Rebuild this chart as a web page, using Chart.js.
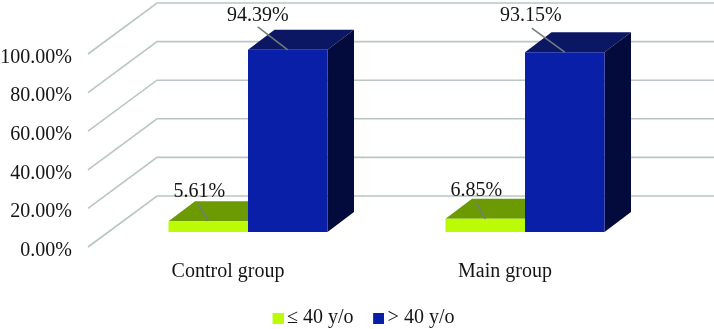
<!DOCTYPE html>
<html>
<head>
<meta charset="utf-8">
<style>
  html, body { margin: 0; padding: 0; background: #fff; }
  #wrap { width: 714px; height: 329px; }
</style>
<script src="https://cdn.jsdelivr.net/npm/chart.js@4/dist/chart.umd.min.js"></script>
</head>
<body>
<div id="wrap"><canvas id="c" width="714" height="329"></canvas></div>
<script>
const categories = ["Control group", "Main group"];
const seriesNames = ["≤ 40 y/o", "> 40 y/o"];
const youngShare = [5.61, 6.85];
const olderShare = [94.39, 93.15];
const tickValues = [0, 20, 40, 60, 80, 100];

const FONT = '"Liberation Serif", "Times New Roman", serif';
const TEXT = "#141414";
const GRID = "#b9c6c3";

// bar depth, and how far the side wall and floor run away from the bars
const DEPTH = { x: 26.5, y: -20 };
const WALL = { backX: 157, backY: -36, frontX: 88, frontY: 15 };
const faces = [
  { front: "#bcfb06", top: "#6b9a02", side: "#6b9a02" },
  { front: "#0a1fa8", top: "#0b1762", side: "#030a3c" },
];
// label centre relative to bar top centre: [dataset][category]
const labelAt = [
  [[-9, -29], [-9, -28]],
  [[-30, -34], [-34, -36]],
];
const leaderFrom = [
  [[-10, -17], [-9, -16]],
  [[-30, -23], [-33, -24]],
];

// legend swatch: blank strip on the left pulls the square closer to its text
function swatch(color) {
  const c = document.createElement("canvas");
  c.width = 13;
  c.height = 11;
  const g = c.getContext("2d");
  g.fillStyle = color;
  g.fillRect(2, 0, 11, 11);
  return c;
}

function poly(ctx, pts, fill) {
  ctx.beginPath();
  pts.forEach((p, i) => (i ? ctx.lineTo(p[0], p[1]) : ctx.moveTo(p[0], p[1])));
  ctx.closePath();
  ctx.fillStyle = fill;
  ctx.fill();
}

const walls3d = {
  id: "walls3d",
  afterLayout(chart) {
    // native legend box sits under the plot, nudged to where the reference has it
    chart.legend.left += 34;
    chart.legend.right += 34;
    chart.legend.top = 284;
  },
  beforeDatasetsDraw(chart) {
    const { ctx, scales } = chart;
    ctx.save();
    ctx.strokeStyle = GRID;
    ctx.lineWidth = 1.6;
    tickValues.forEach((v) => {
      const y = scales.y.getPixelForValue(v);
      ctx.beginPath();
      ctx.moveTo(WALL.frontX, y + WALL.frontY);
      ctx.lineTo(WALL.backX, y + WALL.backY);
      ctx.lineTo(chart.width, y + WALL.backY);
      ctx.stroke();
    });
    chart.data.datasets.forEach((ds, i) => {
      const f = faces[i];
      chart.getDatasetMeta(i).data.forEach((bar) => {
        const l = bar.x - bar.width / 2;
        const r = bar.x + bar.width / 2;
        poly(ctx, [[l, bar.y], [r, bar.y], [r + DEPTH.x, bar.y + DEPTH.y], [l + DEPTH.x, bar.y + DEPTH.y]], f.top);
        poly(ctx, [[r, bar.y], [r + DEPTH.x, bar.y + DEPTH.y], [r + DEPTH.x, bar.base + DEPTH.y], [r, bar.base]], f.side);
      });
    });
    ctx.restore();
  },
  afterDatasetsDraw(chart) {
    const { ctx } = chart;
    ctx.save();
    ctx.font = "20px " + FONT;
    ctx.textAlign = "center";
    ctx.textBaseline = "middle";
    chart.data.datasets.forEach((ds, i) => {
      chart.getDatasetMeta(i).data.forEach((bar, j) => {
        const from = leaderFrom[i][j];
        ctx.strokeStyle = "#6f7f7a";
        ctx.lineWidth = 1.5;
        ctx.beginPath();
        ctx.moveTo(bar.x + from[0], bar.y + from[1]);
        ctx.lineTo(bar.x, bar.y);
        ctx.stroke();
        ctx.fillStyle = TEXT;
        ctx.fillText(ds.data[j].toFixed(2) + "%", bar.x + labelAt[i][j][0], bar.y + labelAt[i][j][1]);
      });
    });
    ctx.restore();
  },
};

new Chart(document.getElementById("c"), {
  type: "bar",
  data: {
    labels: categories,
    datasets: [
      { label: seriesNames[0], data: youngShare, backgroundColor: faces[0].front, categoryPercentage: 0.574, barPercentage: 1 },
      { label: seriesNames[1], data: olderShare, backgroundColor: faces[1].front, categoryPercentage: 0.574, barPercentage: 1 },
    ],
  },
  options: {
    responsive: false,
    animation: false,
    layout: { padding: { top: 39, right: 50.5, left: 0, bottom: -10 } },
    plugins: {
      tooltip: { enabled: false },
      legend: {
        position: "bottom",
        labels: {
          color: TEXT,
          font: { family: FONT, size: 20 },
          padding: 24,
          usePointStyle: true,
          pointStyleWidth: 0.01,
          generateLabels(chart) {
            const items = Chart.defaults.plugins.legend.labels.generateLabels(chart);
            items.forEach((it, i) => (it.pointStyle = swatch(faces[i].front)));
            return items;
          },
        },
      },
    },
    scales: {
      x: {
        grid: { display: false },
        border: { display: false },
        ticks: { color: TEXT, font: { family: FONT, size: 20 }, padding: 20, labelOffset: -20, maxRotation: 0 },
        afterFit(s) { s.height = 53; },
      },
      y: {
        min: 0,
        max: 100,
        grid: { display: false, drawTicks: false },
        border: { display: false },
        ticks: {
          stepSize: 20,
          color: TEXT,
          font: { family: FONT, size: 20 },
          padding: 37.5,
          labelOffset: 18.5,
          callback: (v) => v.toFixed(2) + "%",
        },
        afterFit(s) {
          s.width = 109.5;
          s.paddingTop = 0;
          s.paddingBottom = 0;
        },
      },
    },
  },
  plugins: [walls3d],
});
</script>
</body>
</html>
